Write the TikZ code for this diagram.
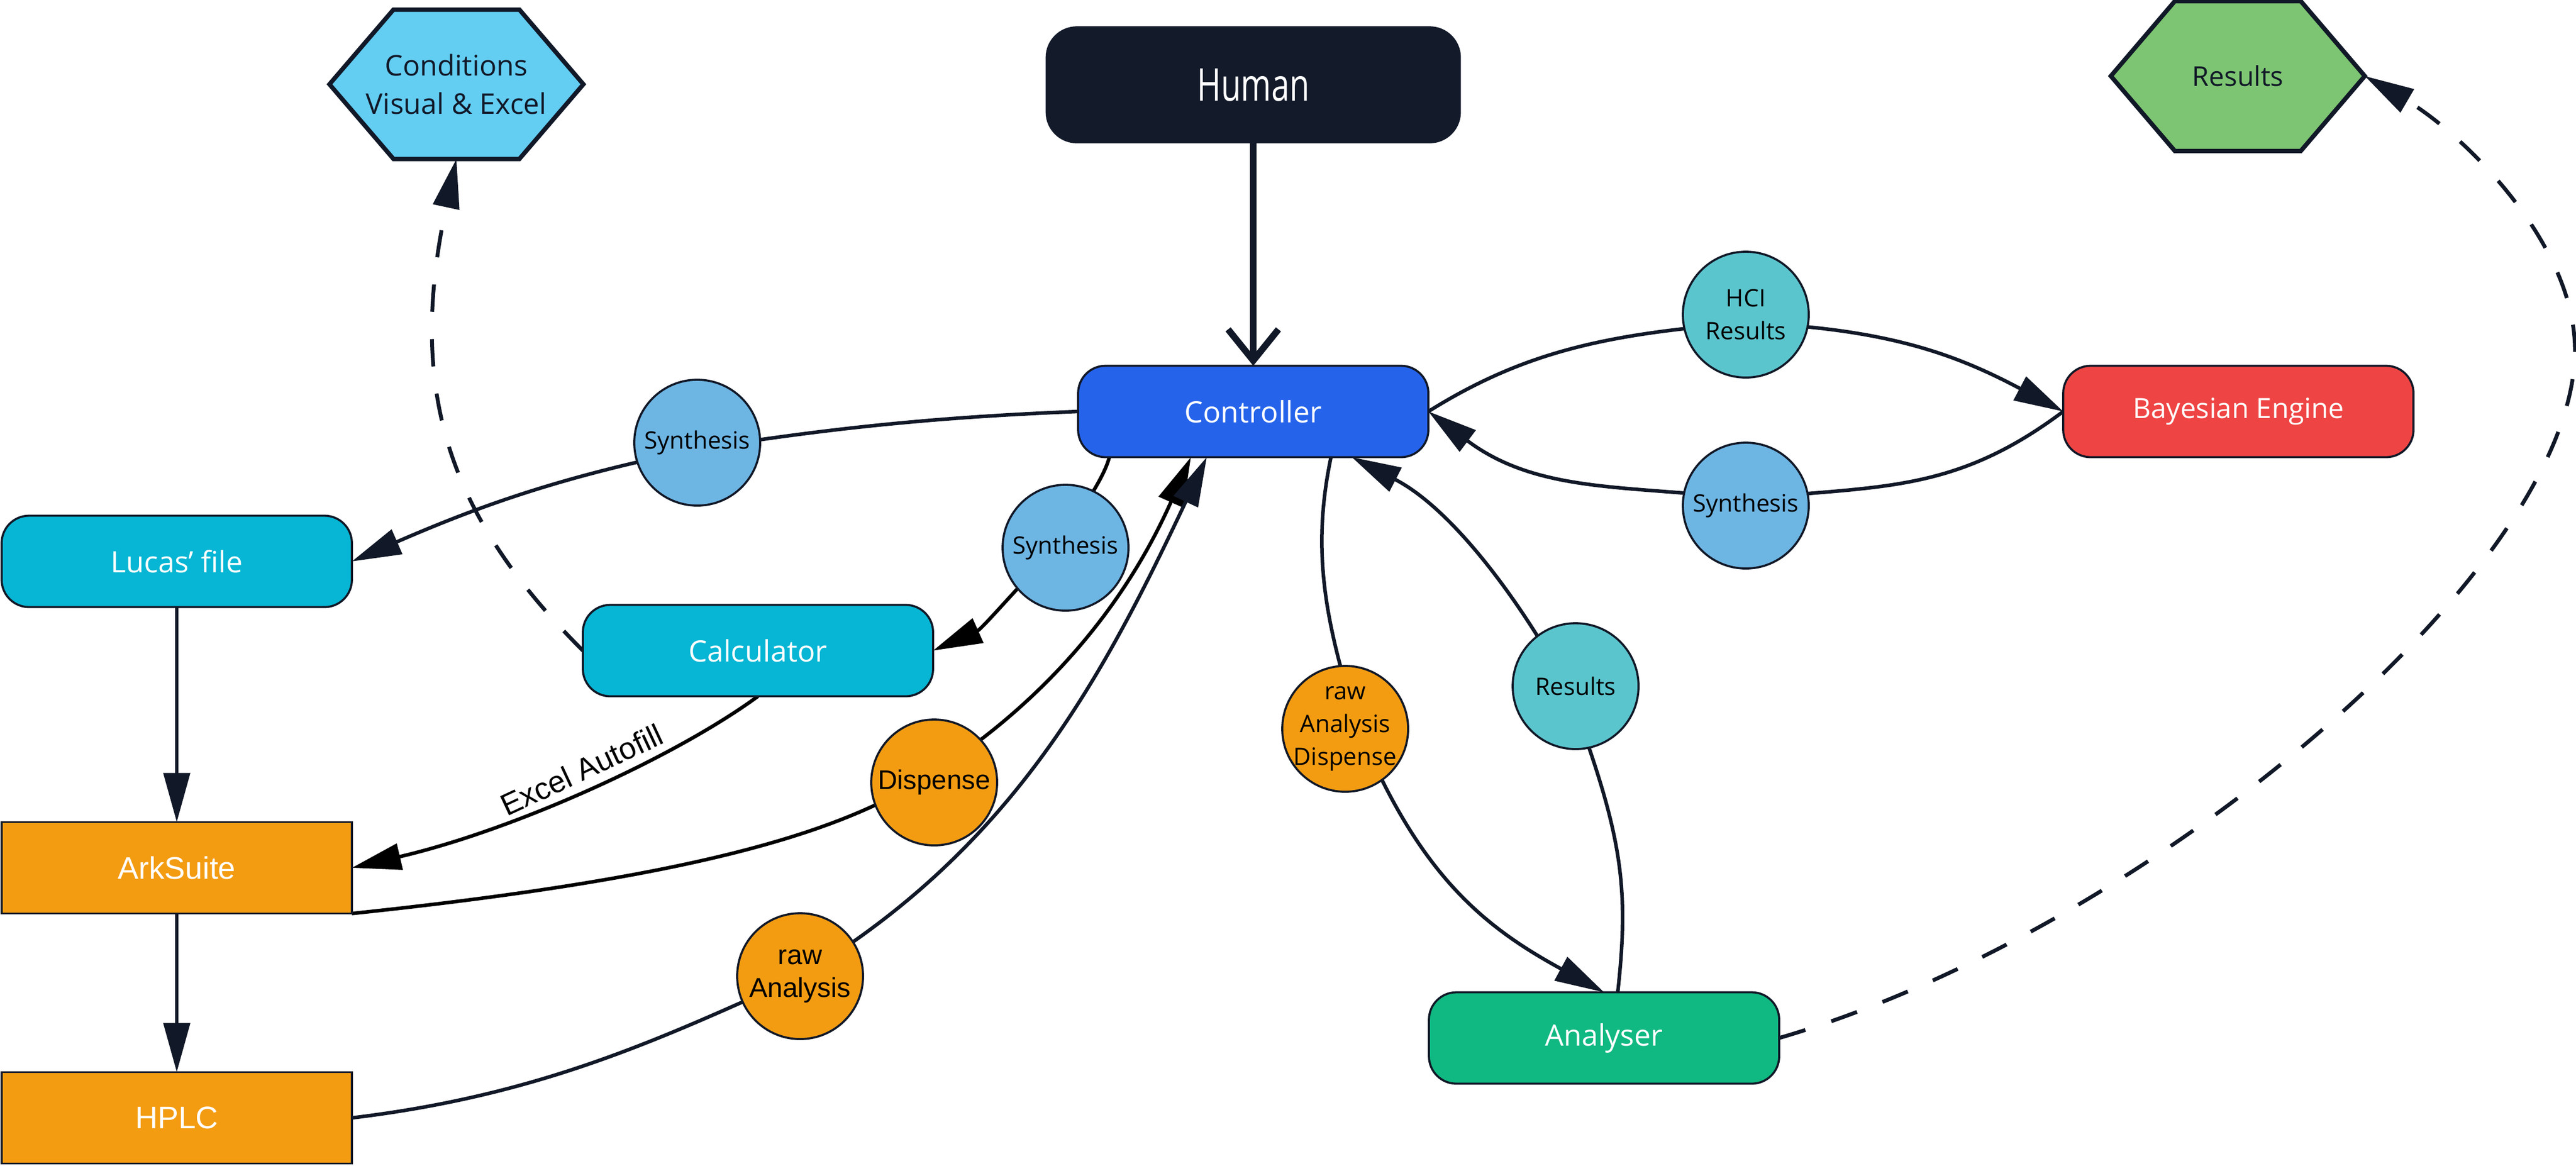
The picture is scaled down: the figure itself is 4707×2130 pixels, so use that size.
\documentclass[tikz,border=0pt]{standalone}
\usepackage{fontspec}
\usepackage{graphicx}
\setmainfont{Open Sans}
\newfontfamily\arialf{Liberation Sans}
\usetikzlibrary{arrows.meta,calc,backgrounds}
\newcommand\myfs[2]{\fontsize{#1pt}{#2pt}\selectfont}
\definecolor{navy}{HTML}{111827}
\definecolor{humanfill}{HTML}{131A2A}
\definecolor{ctrlfill}{HTML}{2563EB}
\definecolor{bayesfill}{HTML}{EF4444}
\definecolor{anafill}{HTML}{10B981}
\definecolor{cyanfill}{HTML}{06B6D4}
\definecolor{orangefill}{HTML}{F39C12}
\definecolor{condfill}{HTML}{63CDF2}
\definecolor{resfill}{HTML}{7DC572}
\definecolor{synfill}{HTML}{6DB5E3}
\definecolor{tealfill}{HTML}{5BC5CD}
\tikzset{
  box/.style={rectangle, rounded corners=5mm, draw=navy, line width=0.38mm,
    minimum width=64mm, minimum height=16.7mm, inner sep=0pt, outer sep=0pt,
    text=white, font=\myfs{15.3}{18}},
  sqbox/.style={box, rounded corners=0pt, fill=orangefill, font=\arialf\myfs{16.2}{19}},
  circ/.style={circle, draw=navy, line width=0.38mm, minimum size=23mm,
    inner sep=0pt, outer sep=0pt, align=center, text=black, font=\myfs{12.5}{17}},
  hexlabel/.style={rectangle, draw=none, minimum width=46.4mm, minimum height=27.3mm,
    inner sep=0pt, outer sep=0pt, align=center, text=navy, font=\myfs{14.8}{19.9}},
  hexshape/.style={draw=navy, line width=0.8mm, line join=miter},
  exl/.style={inner sep=0pt, outer sep=0pt, text=black, font=\arialf\myfs{15.9}{18}},
  conn/.style={draw=navy, line width=0.65mm},
  dashconn/.style={conn, line width=0.7mm, dash pattern=on 5mm off 5mm},
  myarr/.tip={Triangle[length=9mm,width=4.8mm]},
}
\begin{document}
\begin{tikzpicture}[x=0.1mm,y=-0.1mm]
\useasboundingbox (0,0) rectangle (4707,2130);
% boxes
\node[box, fill=humanfill, draw=humanfill, minimum width=75.5mm, minimum height=21mm,
  rounded corners=5.5mm, font=\myfs{23.5}{26}] (human) at (2290,155) {\scalebox{0.72}[1]{Human}};
\node[box, fill=ctrlfill] (ctrl) at (2290,752) {Controller};
\node[box, fill=bayesfill, font=\myfs{14.5}{17}] (bayes) at (4090,752) {Bayesian Engine};
\node[box, fill=cyanfill] (lucas) at (323,1026) {Lucas’ file};
\node[box, fill=cyanfill] (calc) at (1385,1189) {Calculator};
\node[box, fill=anafill] (analyser) at (2931,1897) {Analyser};
\node[sqbox] (ark) at (323,1586) {ArkSuite};
\node[sqbox] (hplc) at (323,2043) {HPLC};
% hexagon labels
\node[hexlabel] (cond) at (834,154) {Conditions\\Visual \& Excel};
\node[hexlabel, minimum height=27.4mm, font=\myfs{14.2}{17}] (reshex) at (4089,139) {Results};
% circles
\node[circ, fill=synfill] (synL) at (1274,809) {Synthesis};
\node[circ, fill=synfill] (synM) at (1947,1001) {Synthesis};
\node[circ, fill=synfill] (synR) at (3190,924) {Synthesis};
\node[circ, fill=tealfill] (hci) at (3190,575) {HCI\\Results};
\node[circ, fill=tealfill] (resC) at (2879,1254) {Results};
\node[circ, fill=orangefill, font=\arialf\myfs{14}{17}] (disp) at (1707,1430) {Dispense};
\node[circ, fill=orangefill, font=\arialf\myfs{14.2}{17}] (rawA) at (1462,1784) {raw\\Analysis};
\node[circ, fill=orangefill, inner sep=-0.8mm] (rawAD) at (2458,1332) {raw\\Analysis\\Dispense};
% edge label
\node[exl, anchor=base, rotate=25] (exlab) at (1071,1425) {Excel Autofill};
\coordinate (bend) at (4705,640);

\begin{pgfonlayer}{background}
% hexagons
\draw[hexshape, fill=condfill] (cond.west) -- ++(117,-136.5) -- ++(230,0) -- ++(117,136.5)
  -- ++(-117,136.5) -- ++(-230,0) -- cycle;
\draw[hexshape, fill=resfill] (reshex.west) -- ++(117,-137) -- ++(230,0) -- ++(117,137)
  -- ++(-117,137) -- ++(-230,0) -- cycle;
% Human -> Controller
\draw[conn, line width=1.2mm, -{Straight Barb[length=5.7mm,width=9.2mm]}] (human.south) -- (ctrl.north);
% Controller -> Synthesis -> Lucas' file
\draw[conn, -myarr] (ctrl.west) .. controls +(-250,10) and +(250,-40) .. ($(synL.center)+(0,12)$)
  .. controls +(-250,50) and +(230,-100) .. (lucas.east);
% Controller -> Synthesis -> Calculator
\draw[conn, draw=black, -myarr] ($(ctrl.south west)+(57,0)$) .. controls +(-10,40) and +(40,-60) .. ($(synM.center)+(-17,0)$)
  .. controls +(-60,60) and +(90,-40) .. (calc.east);
% Calculator -> Conditions (dashed)
\draw[dashconn, -myarr] (calc.west) .. controls +(-250,-250) and +(-90,420) .. (cond.south);
% Calculator -> ArkSuite (Excel Autofill)
\draw[conn, draw=black, -myarr] (calc.south) .. controls +(-150,110) and +(300,-70) .. (ark.east);
% Lucas -> ArkSuite -> HPLC
\draw[conn, -myarr] (lucas.south) -- (ark.north);
\draw[conn, -myarr] (ark.south) -- (hplc.north);
% ArkSuite -> Dispense -> Controller
\draw[conn, draw=black, -myarr] (ark.south east) .. controls +(657,-69) and +(-156,100) .. ($(disp.center)+(-5,-15)$)
  .. controls +(234,-150) and +(-108,243) .. ($(ctrl.south west)+(206,0)$);
% HPLC -> raw Analysis -> Controller
\draw[conn, -myarr] (hplc.east) .. controls +(350,-42) and +(-250,112) .. (rawA.center)
  .. controls +(386,-231) and +(-192,407) .. ($(ctrl.south west)+(235,0)$);
% Controller -> raw Analysis Dispense -> Analyser
\draw[conn, -myarr] ($(ctrl.south west)+(462,0)$) .. controls +(-37,177) and +(-60,-190) .. ($(rawAD.center)+(25,0)$)
  .. controls +(110,267) and +(-220,-120) .. (analyser.north);
% Analyser -> Results -> Controller
\draw[conn, -myarr] ($(analyser.north)+(25,0)$) .. controls +(22,-200) and +(100,267) .. ($(resC.center)+(-16,0)$)
  .. controls +(-92,-168) and +(179,92) .. ($(ctrl.south west)+(500,0)$);
% Controller -> HCI Results -> Bayesian Engine
\draw[conn, -myarr] (ctrl.east) .. controls +(179,-112) and +(-248,20) .. ($(hci.center)+(0,15)$)
  .. controls +(260,10) and +(-194,-103) .. (bayes.west);
% Bayesian Engine -> Synthesis -> Controller
\draw[conn, -myarr] (bayes.west) .. controls +(-200,150) and +(247,-25) .. ($(synR.center)+(0,-12)$)
  .. controls +(-218,-26) and +(200,150) .. (ctrl.east);
% Analyser -> Results (dashed)
\draw[dashconn, -myarr] (analyser.east) .. controls +(672,-196) and +(0,400) .. (bend)
  .. controls +(0,-200) and +(173,101) .. (reshex.east);
\end{pgfonlayer}
\end{tikzpicture}
\end{document}
